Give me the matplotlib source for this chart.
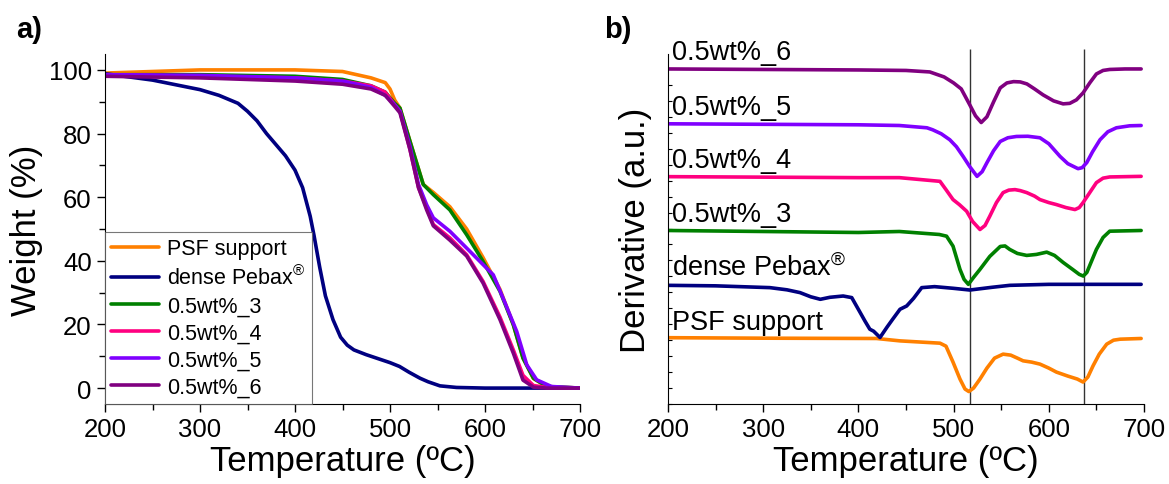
import numpy as np
import matplotlib.pyplot as plt
from matplotlib.ticker import MultipleLocator

plt.rcParams['font.family'] = ['Liberation Sans', 'DejaVu Sans']
plt.rcParams['mathtext.fontset'] = 'custom'
plt.rcParams['mathtext.rm'] = 'Liberation Sans'

# ============================================================================
# Data: a) TGA weight loss curves
# ============================================================================
labels = ["PSF support", r"dense Pebax$^{\circledR}$", "0.5wt%_3", "0.5wt%_4", "0.5wt%_5", "0.5wt%_6"]
colors = ["#FF8000", "#000080", "#008000", "#FF0080", "#8000FF", "#800080"]

T_psf = [200, 250, 300, 400, 450, 480, 495, 500, 505, 510.5, 521, 535, 545.6, 563, 580.7, 598, 615.8, 629.8, 640, 651, 665, 700]
W_psf = [99, 99.5, 100, 100, 99.5, 97.5, 96, 94, 90.5, 88, 77.6, 64, 61.5, 57, 50, 41, 31, 20, 9.5, 3, 0.5, 0]

T_peb = [200, 250, 300, 320, 340, 350, 360, 370, 380, 390, 400, 408, 416, 420, 426, 432, 440, 448, 455, 462,
         475, 490, 500, 510, 520, 531.6, 540, 552.6, 570, 600, 700]
W_peb = [98.8, 96.8, 93.8, 92, 89.5, 87, 84, 80, 76.5, 73, 68.5, 63, 54, 48, 38, 29, 21.5, 16, 13.5, 12,
         10.5, 9, 8, 6.8, 5, 3.1, 2, 0.7, 0.2, 0, 0]

T_3 = [200, 300, 400, 450, 480, 495, 505, 510.5, 521, 535, 545.6, 563, 580.7, 598, 615.8, 629.8, 640, 651, 665, 700]
W_3 = [98.5, 98.5, 98, 97, 95, 93, 89.5, 88, 77.6, 64, 60.8, 56, 48.2, 39.8, 30.4, 19.9, 9.4, 3.1, 0.5, 0]

T_4 = [200, 300, 400, 450, 480, 495, 505, 510.5, 521, 530, 538.6, 545.6, 563, 580.7, 598, 615.8, 629.8, 640, 651, 665, 700]
W_4 = [98.5, 98, 97.5, 96.5, 95, 93, 89, 87, 75, 63, 56.6, 51.4, 47.2, 41.9, 33.5, 22.3, 12, 4, 0.8, 0.2, 0]

T_5 = [200, 300, 400, 450, 480, 495, 505, 510.5, 521, 530, 538.6, 545.6, 563, 580.7, 598, 608.7, 619, 633.4, 644, 654.4, 670, 700]
W_5 = [98.5, 98.3, 97.5, 96.5, 94.5, 92, 89, 87, 76, 64, 57.6, 53.5, 49.3, 44, 38.8, 35.6, 28.3, 17.8, 7.3, 2.6, 0.5, 0]

T_6 = [200, 300, 400, 450, 480, 495, 505, 510.5, 521, 530, 538.6, 545.6, 563, 580.7, 598, 615.8, 629.8, 640, 651, 665, 700]
W_6 = [98, 97.5, 96.5, 95.5, 94, 92, 88.5, 86.5, 75, 63, 56, 51, 46.5, 41.5, 33, 21.5, 11, 2.5, 0.3, 0, 0]

tga_T = [T_psf, T_peb, T_3, T_4, T_5, T_6]
tga_W = [W_psf, W_peb, W_3, W_4, W_5, W_6]

# ============================================================================
# Data: b) derivative curves (a.u., relative to each baseline)
# ============================================================================
dT_psf = [200, 300, 419, 443.7, 485.7, 492, 499.4, 506.7, 512, 516, 521, 527.7, 535, 543, 552, 560, 567, 573,
          582, 590.7, 600, 608, 620, 630, 636, 641, 646.5, 653, 660.8, 668, 675, 697]
dD_psf = [1.5, 1, 0.7, -1.7, -4, -7, -23, -40, -50, -52.5, -49, -40, -29, -19, -15, -16, -19, -21.7,
          -23, -25, -29, -33, -37, -40, -43, -38, -26.7, -15, -5, -1, 0, 0.7]

dT_peb = [200, 250, 307, 325, 338.7, 350, 360, 370, 384, 393, 401.7, 407, 412, 416, 422.7, 430, 436, 443.7,
          450.7, 458, 466.5, 480, 500, 517, 540, 559, 600, 697]
dD_peb = [0, -0.5, -2.3, -4.5, -7.3, -11.5, -14, -12, -10.7, -12.3, -27, -36, -44, -46, -52.3, -42, -34, -24,
          -20.7, -13, -2.3, -1.3, -3, -4.7, -2, 0, 1, 1]

dT_3 = [200, 300, 400, 443, 485, 492.6, 499.4, 506.7, 511, 515.5, 521, 527.7, 538, 549, 554, 559, 567, 576.8,
        587, 597.8, 606, 615, 625, 632, 636.2, 640, 650, 657, 664, 697]
dD_3 = [0, -1, -2, -1, -4, -5.7, -15.7, -39, -49, -54, -47, -39, -26, -16, -15.5, -19, -23, -25,
        -24, -21.7, -25, -32, -39, -44, -45.7, -42, -19, -7, -0.7, 0]

dT_4 = [200, 300, 400, 443, 485.7, 492, 499.4, 506, 513.7, 520, 527.7, 533, 538, 545, 552, 558, 564.5, 570,
        576.8, 585, 590.7, 600, 608, 618, 627.5, 632, 636, 643, 650, 657, 664, 697]
dD_4 = [0, -0.5, -1, -1, -4.7, -13, -23, -28, -34.7, -45, -53, -49, -39.7, -26, -16, -13.5, -13, -14,
        -16, -19.5, -23, -26, -28, -31, -33, -31, -26, -16, -6, -1.5, -0.3, 0.3]

dT_5 = [200, 300, 400, 443, 472, 478, 487, 496, 503, 510, 517, 524.6, 530, 535, 542, 549, 557, 566, 578,
        590.7, 600, 611.8, 620, 630.7, 635, 639.8, 646, 653.8, 662, 671, 685, 697]
dD_5 = [0, -0.5, -1, -1.7, -4, -6, -10, -16, -23, -32.7, -43, -52.7, -48, -39, -27, -17.7, -14, -12.7, -12.5,
        -14, -20, -32.7, -40, -45, -44, -39, -28, -16, -8, -4, -2, -1.7]

dT_6 = [200, 300, 400, 450, 475, 490, 500, 508, 517, 523, 529, 535, 542, 549, 556, 563, 570, 577, 585,
        594, 605, 615, 622, 629, 636, 643, 650, 657, 664, 680, 697]
dD_6 = [0, -0.5, -1, -1.5, -3, -8, -14, -20, -36, -47, -53.7, -48, -33, -19, -14, -12.7, -13, -15, -20,
        -26, -32, -35, -34.5, -31, -24, -14, -5, -1.5, -0.5, 0, 0]

deriv_T = [dT_psf, dT_peb, dT_3, dT_4, dT_5, dT_6]
deriv_D = [dD_psf, dD_peb, dD_3, dD_4, dD_5, dD_6]
deriv_labels = ["PSF support", r"dense Pebax$^{\circledR}$", "0.5wt%_3", "0.5wt%_4", "0.5wt%_5", "0.5wt%_6"]
offsets = [65, 119, 174, 228, 281, 336]
peak_lines = [517, 637]

# ============================================================================
# Figure
# ============================================================================
W_px, H_px = 1169, 485
fig = plt.figure(figsize=(W_px / 100, H_px / 100), dpi=100)

ax1 = fig.add_axes([105 / W_px, 80 / H_px, 475 / W_px, 350 / H_px])
ax2 = fig.add_axes([668 / W_px, 80 / H_px, 476 / W_px, 350 / H_px])

# ----------------------------------------------------------------------------
# a) TGA
# ----------------------------------------------------------------------------
for T, W, c, lab in zip(tga_T, tga_W, colors, labels):
    ax1.plot(T, W, color=c, lw=2.6, label=lab, solid_joinstyle="round", solid_capstyle="round")

ax1.set_xlim(200, 700)
ax1.set_ylim(-5, 105)
ax1.xaxis.set_major_locator(MultipleLocator(100))
ax1.xaxis.set_minor_locator(MultipleLocator(50))
ax1.yaxis.set_major_locator(MultipleLocator(20))
ax1.yaxis.set_minor_locator(MultipleLocator(10))
ax1.set_xlabel("Temperature (ºC)", fontsize=25, labelpad=2)
ax1.set_ylabel("Weight (%)", fontsize=25, labelpad=4)

leg = ax1.legend(loc="lower left", fontsize=15.5, frameon=True, fancybox=False,
                 borderaxespad=0, handlelength=2.2, handletextpad=0.4,
                 labelspacing=0.28, borderpad=0.3)
leg.get_frame().set_edgecolor("#555555")
leg.get_frame().set_linewidth(0.8)

# ----------------------------------------------------------------------------
# b) Derivative
# ----------------------------------------------------------------------------
for T, D, c, off, lab in zip(deriv_T, deriv_D, colors, offsets, deriv_labels):
    ax2.plot(T, np.array(D) + off, color=c, lw=2.6, solid_joinstyle="round", solid_capstyle="round")
    ax2.text(204, off + 10, lab, fontsize=19.5, ha="left", va="baseline")

ax2.vlines(peak_lines, 0, 356, color="#333333", lw=1.0, clip_on=False, zorder=0)

ax2.set_xlim(200, 700)
ax2.set_ylim(0, 351)
ax2.xaxis.set_major_locator(MultipleLocator(100))
ax2.xaxis.set_minor_locator(MultipleLocator(50))
ax2.yaxis.set_major_locator(MultipleLocator(16))
ax2.set_yticklabels([])
ax2.set_xlabel("Temperature (ºC)", fontsize=25, labelpad=2)
ax2.set_ylabel("Derivative (a.u.)", fontsize=25, labelpad=8)

for ax in (ax1, ax2):
    ax.spines["top"].set_visible(False)
    ax.spines["right"].set_visible(False)
    ax.tick_params(axis="x", which="major", direction="out", length=6, width=1, labelsize=18.5)
    ax.tick_params(axis="x", which="minor", direction="out", length=4, width=1)
ax1.tick_params(axis="y", which="major", direction="out", length=6, width=1, labelsize=18.5)
ax1.tick_params(axis="y", which="minor", direction="out", length=4, width=1)
ax2.tick_params(axis="y", which="major", direction="in", length=3, width=0.8)

fig.text(16 / W_px, 1 - 38 / H_px, "a)", fontsize=21, fontweight="bold")
fig.text(604 / W_px, 1 - 38 / H_px, "b)", fontsize=21, fontweight="bold")

fig.savefig("out.png", dpi=100)
